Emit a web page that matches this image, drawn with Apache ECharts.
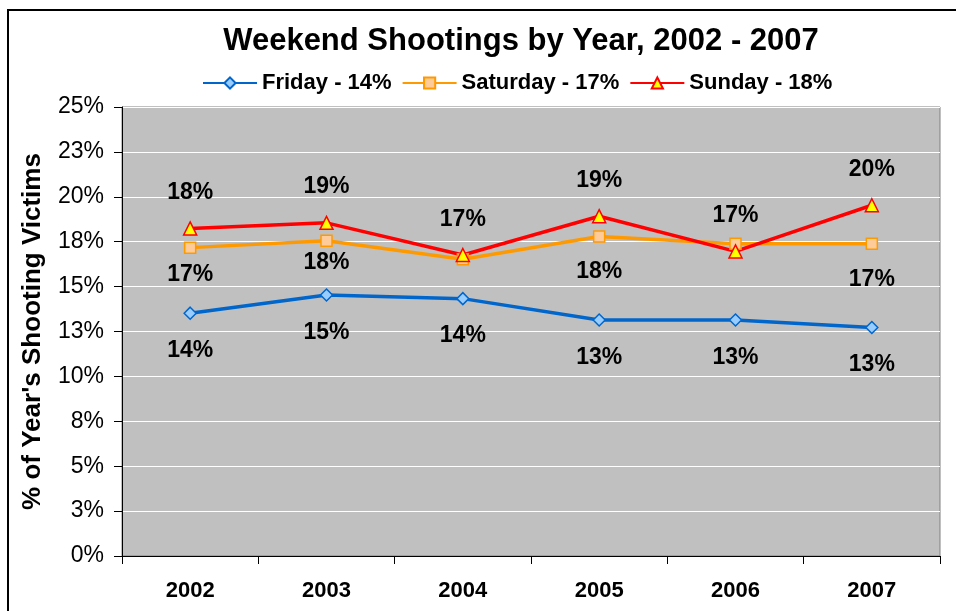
<!DOCTYPE html>
<html>
<head>
<meta charset="utf-8">
<script src="https://cdn.jsdelivr.net/npm/echarts@6/dist/echarts.min.js"></script>
<style>
  html, body { margin: 0; padding: 0; background: #fff; }
  #chart { width: 956px; height: 611px; }
</style>
</head>
<body>
<div id="chart"></div>
<script>
// Share of each year's shooting victims shot on a given weekend day (%)
const years = ['2002', '2003', '2004', '2005', '2006', '2007'];
const friday   = [13.52, 14.53, 14.33, 13.14, 13.14, 12.72];
const saturday = [17.17, 17.55, 16.52, 17.79, 17.39, 17.39];
const sunday   = [18.24, 18.55, 16.76, 18.92, 16.96, 19.53];
const seriesNames = ['Friday - 14%', 'Saturday - 17%', 'Sunday - 18%'];
const yTicks = [0, 2.5, 5, 7.5, 10, 12.5, 15, 17.5, 20, 22.5, 25];

const FONT = 'Liberation Sans, Arial, sans-serif';
const pct = v => Math.round(v) + '%';

// Saturday's 2004 and 2006 value labels are left off; its first two sit closer to the line
const satLabelHidden = [false, false, true, false, true, false];
const satLabelDistance = [9, 4, 18, 17, 18, 18];

const labelStyle = {
  show: true,
  fontFamily: FONT,
  fontWeight: 'bold',
  fontSize: 23,
  color: '#000',
  formatter: p => pct(p.value)
};

const chart = echarts.init(document.getElementById('chart'), null, { renderer: 'canvas' });

chart.setOption({
  animation: false,
  backgroundColor: '#fff',
  graphic: [{
    type: 'rect',
    shape: { x: 8, y: 10, width: 1000, height: 700 },
    style: { fill: 'none', stroke: '#000', lineWidth: 2 },
    silent: true,
    z: -1
  }],
  title: {
    text: 'Weekend Shootings by Year, 2002 - 2007',
    left: 516,
    textAlign: 'center',
    top: 21,
    textStyle: { fontFamily: FONT, fontWeight: 'bold', fontSize: 31, color: '#000' }
  },
  legend: {
    top: 67,
    left: 197,
    itemGap: 10,
    itemWidth: 54,
    itemHeight: 14,
    textStyle: { fontFamily: FONT, fontWeight: 'bold', fontSize: 22, color: '#000' },
    data: seriesNames
  },
  grid: {
    left: 122, right: 16, top: 107, bottom: 55,
    show: true,
    backgroundColor: '#C0C0C0',
    borderColor: '#808080',
    borderWidth: 1
  },
  xAxis: {
    type: 'category',
    data: years,
    boundaryGap: true,
    axisLine: { lineStyle: { color: '#000', width: 1 } },
    axisTick: { show: true, length: 8, lineStyle: { color: '#000' } },
    axisLabel: {
      fontFamily: FONT, fontWeight: 'bold', fontSize: 22, color: '#000', margin: 24
    },
    splitLine: { show: false }
  },
  yAxis: {
    type: 'value',
    min: 0, max: 25, interval: 2.5,
    name: "% of Year's Shooting Victims",
    nameLocation: 'middle',
    nameGap: 76,
    nameTextStyle: { fontFamily: FONT, fontWeight: 'bold', fontSize: 26, color: '#000' },
    axisLine: { show: true, lineStyle: { color: '#000' } },
    axisTick: { show: true, length: 8, lineStyle: { color: '#000' } },
    axisLabel: {
      fontFamily: FONT, fontSize: 23, color: '#000', margin: 18,
      formatter: v => (yTicks.includes(v) ? pct(v) : '')
    },
    splitLine: { show: true, lineStyle: { color: '#fff', width: 1 } }
  },
  series: [
    {
      name: seriesNames[0],
      type: 'line',
      data: friday,
      symbol: 'diamond',
      symbolSize: 12,
      lineStyle: { color: '#0066CC', width: 3.5 },
      itemStyle: { color: '#99CCFF', borderColor: '#0066CC', borderWidth: 1.5 },
      label: Object.assign({}, labelStyle, { position: 'bottom', distance: 19 })
    },
    {
      name: seriesNames[1],
      type: 'line',
      data: saturday.map((v, i) => ({
        value: v,
        label: { show: !satLabelHidden[i], distance: satLabelDistance[i] }
      })),
      symbol: 'rect',
      symbolSize: 11,
      lineStyle: { color: '#FF9900', width: 3.5 },
      itemStyle: { color: '#FFCC99', borderColor: '#FF9900', borderWidth: 1.5 },
      label: Object.assign({}, labelStyle, { position: 'bottom', distance: 18 })
    },
    {
      name: seriesNames[2],
      type: 'line',
      data: sunday,
      symbol: 'triangle',
      symbolSize: 13,
      lineStyle: { color: '#FF0000', width: 3.5 },
      itemStyle: { color: '#FFFF00', borderColor: '#FF0000', borderWidth: 1.5 },
      label: Object.assign({}, labelStyle, { position: 'top', distance: 17 })
    }
  ]
});
</script>
</body>
</html>
